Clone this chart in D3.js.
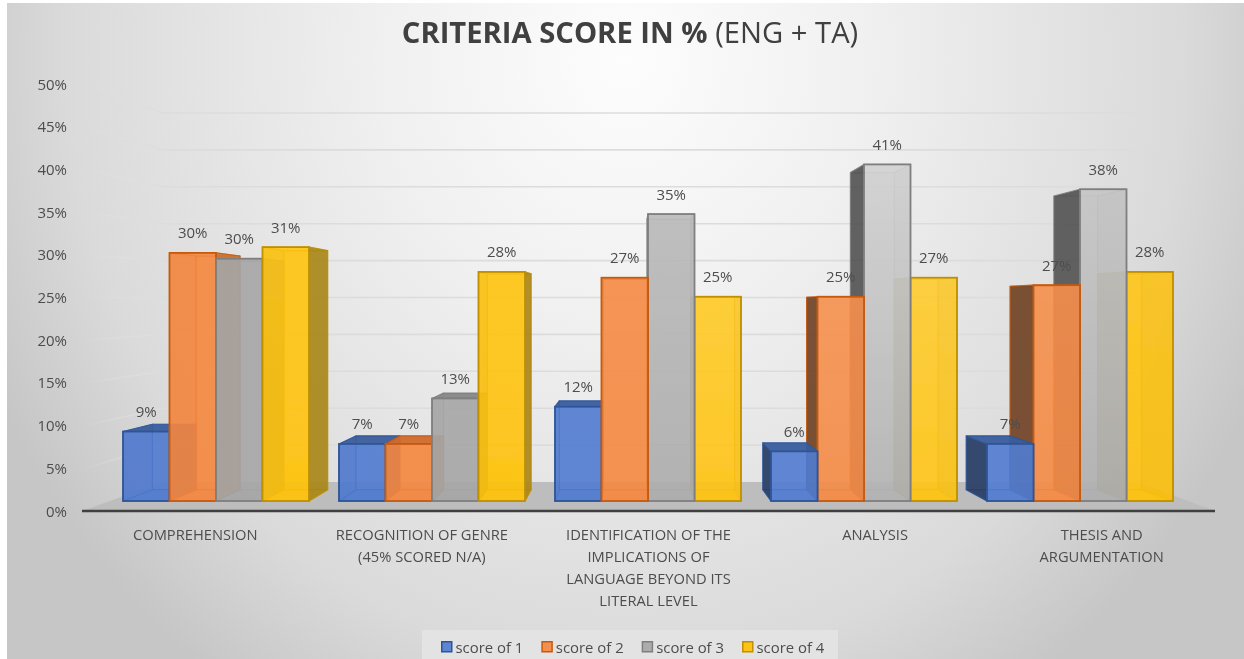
<!DOCTYPE html>
<html><head><meta charset="utf-8">
<script src="https://cdnjs.cloudflare.com/ajax/libs/d3/7.8.5/d3.min.js"></script>
<style>html,body{margin:0;padding:0;background:#fff;overflow:hidden}svg{display:block}text{font-family:"Open Sans",sans-serif}</style>
</head><body><div id="chart"></div>
<script>
const categories = [
  ["COMPREHENSION"],
  ["RECOGNITION OF GENRE","(45% SCORED N/A)"],
  ["IDENTIFICATION OF THE","IMPLICATIONS OF","LANGUAGE BEYOND ITS","LITERAL LEVEL"],
  ["ANALYSIS"],
  ["THESIS AND","ARGUMENTATION"]
];
const seriesNames = ["score of 1","score of 2","score of 3","score of 4"];
const score1 = [8.4, 6.9, 11.4, 6.0, 6.9];
const score2 = [30.0, 6.9, 27.0, 24.7, 26.1];
const score3 = [29.3, 12.4, 34.7, 40.7, 37.7];
const score4 = [30.7, 27.7, 24.7, 27.0, 27.7];
const score1Labels = ["9%","7%","12%","6%","7%"];
const score2Labels = ["30%","7%","27%","25%","27%"];
const score3Labels = ["30%","13%","35%","41%","38%"];
const score4Labels = ["31%","28%","25%","27%","28%"];
const yTicks = [0,5,10,15,20,25,30,35,40,45,50];

const W=1244,H=659;
const series=[score1,score2,score3,score4];
const seriesLabels=[score1Labels,score2Labels,score3Labels,score4Labels];
const palette=[
 {front:"#4f7ad0",edge:"#2f5597",dark:"#293c62",top:"#3a5c9c",side:"#3f5f9f"},
 {front:"#f5873f",edge:"#c55a11",dark:"#6e4426",top:"#cf6a2a",side:"#c96f30"},
 {front:"#a6a6a6",edge:"#7f7f7f",dark:"#525252",top:"#858585",side:"#8f8f8f"},
 {front:"#ffc000",edge:"#bf9000",dark:"#a08a50",top:"#d9a514",side:"#a5841a"}
];
// how much the 3D lighting brightens the top of a bar's front face, by group and series
const groupLight=[[0,0,0,.08],[0,0,0,.08],[.02,.03,.25,.22],[.04,.12,.5,.25],[.04,.1,.38,.12]];
const vx=630,vy=306,s=.058;
const P=(x,y)=>[x+(vx-x)*s,y+(vy-y)*s];

const svg=d3.select("#chart").append("svg").attr("width",W).attr("height",H);
const defs=svg.append("defs");
const bg=defs.append("radialGradient").attr("id","bg").attr("gradientUnits","userSpaceOnUse")
  .attr("cx",0).attr("cy",0).attr("r",1)
  .attr("gradientTransform","translate(625,60) scale(700,760)");
[[0,"#fdfdfd"],[.35,"#f0f0f0"],[.8,"#dadada"],[1,"#c6c6c6"]].forEach(d=>bg.append("stop").attr("offset",d[0]).attr("stop-color",d[1]));
const wall=defs.append("linearGradient").attr("id","wallFade").attr("gradientUnits","userSpaceOnUse").attr("x1",85).attr("x2",163).attr("y1",0).attr("y2",0);
wall.append("stop").attr("offset",0).attr("stop-color","#e4e4e4").attr("stop-opacity",0);
wall.append("stop").attr("offset",1).attr("stop-color","#dcdcdc").attr("stop-opacity",1);
defs.append("filter").attr("id","soft").attr("x","-5%").attr("y","-5%").attr("width","110%").attr("height","110%")
  .append("feGaussianBlur").attr("stdDeviation",.45);

svg.append("rect").attr("x",7).attr("y",3).attr("width",W-7).attr("height",H-3).attr("fill","url(#bg)");

const yAxisScale=d3.scaleLinear().domain([0,50]).range([511,84]);
const yBack=d3.scaleLinear().domain([0,50]).range([482,113]);
const yBar=d3.scaleLinear().domain([0,50]).range([501,87.5]);
const xGroup=d3.scaleBand().domain(d3.range(categories.length)).range([108,1188]).paddingInner(.1389).paddingOuter(.0695);
const xBar=d3.scaleBand().domain(d3.range(series.length)).range([0,xGroup.bandwidth()]);
const xCat=d3.scaleBand().domain(d3.range(categories.length)).range([82,1215]);

const root=svg.append("g").attr("filter","url(#soft)");
root.append("polygon").attr("points",[[82,511],[1215,511],[1137,482],[163,482]].join(" ")).attr("fill","#bdbdbd");
const grid=root.append("g");
yTicks.filter(t=>t>0).forEach(t=>{
  grid.append("line").attr("x1",163).attr("x2",1137).attr("y1",yBack(t)).attr("y2",yBack(t)).attr("stroke","#dcdcdc").attr("stroke-width",1.6);
  grid.append("line").attr("x1",85).attr("x2",163).attr("y1",yAxisScale(t)).attr("y2",yBack(t)+.01).attr("stroke","url(#wallFade)").attr("stroke-width",1.6);
});
root.append("line").attr("x1",82).attr("x2",1215).attr("y1",511).attr("y2",511).attr("stroke","#404040").attr("stroke-width",2.4);

const bars=[];
categories.forEach((c,i)=>series.forEach((v,j)=>{
  const x0=xGroup(i)+xBar(j),x1=x0+xBar.bandwidth();
  bars.push({i,j,x0,x1,y0:yBar(0),y1:yBar(v[i]),label:seriesLabels[j][i],dist:Math.abs((x0+x1)/2-vx)});
}));
bars.sort((a,b)=>b.dist-a.dist);
const poly=(g,pts,fill,op,edge,eop)=>g.append("polygon").attr("points",pts.map(p=>p.join(",")).join(" "))
  .attr("fill",fill).attr("fill-opacity",op).attr("stroke",edge).attr("stroke-width",1.2).attr("stroke-opacity",eop).attr("stroke-linejoin","round");
bars.forEach(b=>{
  const c=palette[b.j],g=root.append("g");
  const fl=[b.x0,b.y1],fr=[b.x1,b.y1],bl=[b.x0,b.y0],br=[b.x1,b.y0];
  const Bfl=P(...fl),Bfr=P(...fr),Bbl=P(...bl),Bbr=P(...br);
  const light=groupLight[b.i][b.j];
  const id=`front-${b.i}-${b.j}`;
  const gr=defs.append("linearGradient").attr("id",id).attr("gradientUnits","userSpaceOnUse").attr("x1",0).attr("x2",0).attr("y1",160).attr("y2",501);
  gr.append("stop").attr("offset",0).attr("stop-color",d3.interpolateRgb(c.front,"#ffffff")(light));
  gr.append("stop").attr("offset",1).attr("stop-color",d3.interpolateRgb(c.front,"#ffffff")(light*.3));
  const showRight=Bfr[0]>b.x1+1,showLeft=Bfl[0]<b.x0-1,showTop=Bfl[1]<b.y1;
  const leftFace=[fl,Bfl,Bbl,bl],rightFace=[fr,Bfr,Bbr,br],topFace=[fl,fr,Bfr,Bfl];
  const innerEdge=b.j===2?.3:.6;
  poly(g,[Bfl,Bfr,Bbr,Bbl],c.front,.3,c.edge,innerEdge);
  poly(g,[bl,br,Bbr,Bbl],c.front,.5,c.edge,innerEdge);
  if(!showRight)poly(g,rightFace,c.side,.4,c.edge,innerEdge);
  if(!showLeft)poly(g,leftFace,c.side,.35,c.edge,innerEdge);
  if(!showTop)poly(g,topFace,c.front,.2,c.edge,innerEdge);
  if(showRight)poly(g,rightFace,c.side,.88,c.edge,.75);
  if(showLeft)poly(g,leftFace,c.dark,.9,c.edge,.75);
  if(showTop)poly(g,topFace,c.top,.92,c.edge,.75);
  g.append("rect").attr("x",b.x0).attr("y",b.y1).attr("width",b.x1-b.x0).attr("height",b.y0-b.y1)
   .attr("fill",`url(#${id})`).attr("fill-opacity",.86).attr("stroke",c.edge).attr("stroke-width",1.8);
});

const txt=svg.append("g").attr("filter","url(#soft)");
const labelCol="#4d4d4d";
bars.forEach(b=>{
  txt.append("text").attr("x",(b.x0+b.x1)/2).attr("y",b.y1-14.5).attr("text-anchor","middle")
    .attr("font-size",15).attr("fill",labelCol).text(b.label);
});
yTicks.forEach(t=>{
  txt.append("text").attr("x",67).attr("y",yAxisScale(t)+5.5).attr("text-anchor","end")
    .attr("font-size",15).attr("fill",labelCol).text(t+"%");
});
categories.forEach((lines,i)=>{
  lines.forEach((l,k)=>{
    txt.append("text").attr("x",xCat(i)+xCat.bandwidth()/2).attr("y",539.5+k*22).attr("text-anchor","middle")
      .attr("font-size",14.7).attr("fill",labelCol).text(l);
  });
});
const title=txt.append("text").attr("x",630).attr("y",43).attr("text-anchor","middle").attr("font-size",29.2).attr("fill","#404040");
title.append("tspan").attr("font-weight",700).text("CRITERIA SCORE IN %");
title.append("tspan").text(" (ENG + TA)");

svg.append("rect").attr("x",422).attr("y",630).attr("width",416).attr("height",29).attr("fill","#e3e3e3");
const xLeg=d3.scalePoint().domain(seriesNames).range([441,742]);
const leg=svg.append("g").attr("filter","url(#soft)");
seriesNames.forEach((n,j)=>{
  leg.append("rect").attr("x",xLeg(n)+.75).attr("y",641.75).attr("width",10).attr("height",10)
    .attr("fill",palette[j].front).attr("fill-opacity",.9).attr("stroke",palette[j].edge).attr("stroke-width",1.5);
  leg.append("text").attr("x",xLeg(n)+14.5).attr("y",652.5).attr("font-size",14.9).attr("fill",labelCol).text(n);
});
</script></body></html>
